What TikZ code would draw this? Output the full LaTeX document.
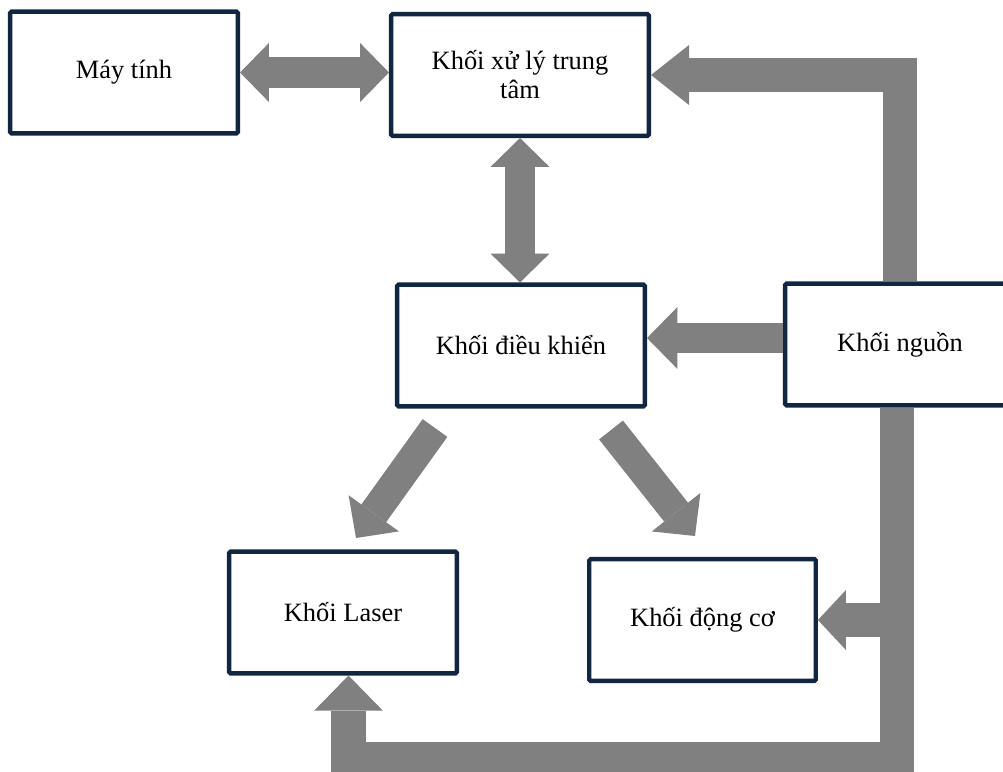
\documentclass[tikz,border=0pt]{standalone}
\usepackage{fontspec}
\setmainfont{Liberation Serif}
\usepackage{xcolor}
\usepackage{tikz}
\usetikzlibrary{arrows.meta,positioning,calc}

\definecolor{boxblue}{RGB}{17,38,64}
\definecolor{arrgray}{RGB}{128,128,128}

\tikzset{
  block/.style={draw=boxblue, line width=0.11cm, fill=white, rounded corners=1pt,
    align=center, minimum height=3.04cm, font=\fontsize{18.8}{20.6}\selectfont},
  flow/.style={draw=arrgray, line width=0.76cm,
    -{Triangle[length=0.76cm,width=1.55cm,line width=0pt]}},
  flowboth/.style={flow,
    {Triangle[length=0.72cm,width=1.47cm,line width=0pt]}-{Triangle[length=0.72cm,width=1.47cm,line width=0pt]}},
  power/.style={draw=arrgray, line width=0.86cm, line join=miter,
    -{Triangle[length=#1,width=1.5cm,line width=0pt]}},
  power/.default=0.8cm
}

\begin{document}
\begin{tikzpicture}[x=0.025cm,y=-0.025cm]
				\clip (0,0) rectangle (1003,771);
				
				% khoi
				\node [block, minimum width=5.69cm] (may) at (124,72.5) {Máy tính};
				\node [block, minimum width=6.44cm] (xl) at (520,75) {Khối xử lý trung\\tâm};
				\node [block, minimum width=6.19cm] (dk) at (521,345.5) {Khối điều khiển};
				\node [block, minimum width=5.74cm] (nguon) at (900,344.5) {Khối nguồn};
				\node [block, minimum width=5.69cm] (laser) at (343,612.5) {Khối Laser};
				\node [block, minimum width=5.66cm] (dc) at (702.5,620) {Khối động cơ};
				
				% % % % % % % % % % % % % % % % % % % % % % % % % %
				
				\coordinate (c1) at (0,338);
				\coordinate (pw) at (897,0);
				\coordinate (lz) at (348.5,759);
				\coordinate (d1) at (435,428);
				\coordinate (d2) at (356,538);
				\coordinate (d3) at (611,430);
				\coordinate (d4) at (695,536);
				
				\draw [flowboth] (may.east) -- (may.east -| xl.west);
				\draw [flowboth] (xl.south) -- (xl.south |- dk.north);
				\draw [flow] (nguon.west |- c1) -- (dk.east |- c1);
				\draw [flow] (d1) -- (d2);
				\draw [flow] (d3) -- (d4);
				
				\draw [power=0.95cm] (nguon.north) |- (xl.east);
				\draw [power=0.88cm, -{Triangle[length=0.88cm,width=1.72cm,line width=0pt]}] (pw |- dc.east) |- (lz) -- (lz |- laser.south);
				\draw [power=0.7cm] (nguon.south -| pw) |- (dc.east);
\end{tikzpicture}
\end{document}
